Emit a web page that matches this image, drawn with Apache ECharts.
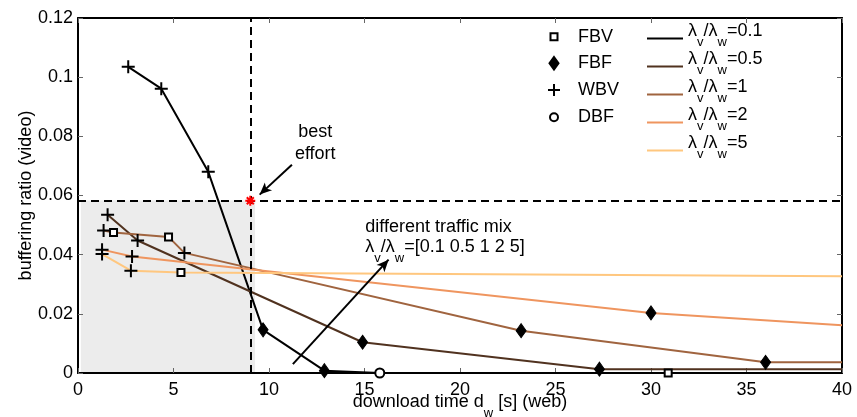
<!DOCTYPE html>
<html>
<head>
<meta charset="utf-8">
<script src="https://cdn.jsdelivr.net/npm/echarts@6/dist/echarts.min.js"></script>
<style>
  html, body { margin: 0; padding: 0; background: #fff; }
  #chart { width: 857px; height: 417px; }
</style>
</head>
<body>
<div id="chart"></div>
<script>
// traffic mix lambda_v / lambda_w, one curve each
const mixRatios = ['0.1', '0.5', '1', '2', '5'];
const mixColors = ['#000000', '#50321f', '#a0643f', '#ef955f', '#ffc77f'];

// download time d_w [s] and buffering ratio along every curve
const mix01X = [2.63, 4.36, 6.82, 9.69, 12.9, 15.8, 30.9, 40];
const mix01Y = [0.1035, 0.0961, 0.068, 0.0146, 0.0008, 0, 0, 0];
const mix05X = [1.55, 3.12, 14.9, 27.3, 40];
const mix05Y = [0.0535, 0.0448, 0.0104, 0.0013, 0.0013];
const mix1X = [1.34, 1.86, 4.74, 5.57, 23.2, 36.0, 40];
const mix1Y = [0.0482, 0.0475, 0.046, 0.0406, 0.0143, 0.0036, 0.0036];
const mix2X = [1.26, 2.83, 30.0, 40];
const mix2Y = [0.0417, 0.0394, 0.0203, 0.0161];
const mix5X = [1.26, 2.77, 5.39, 40];
const mix5Y = [0.0402, 0.0346, 0.034, 0.0327];

// scheduling strategies (markers)
const fbvX = [1.86, 4.74, 5.39, 30.9];
const fbvY = [0.0475, 0.046, 0.034, 0];
const fbfX = [9.69, 12.9, 14.9, 27.3, 23.2, 36.0, 30.0];
const fbfY = [0.0146, 0.0008, 0.0104, 0.0013, 0.0143, 0.0036, 0.0203];
const wbvX = [2.63, 4.36, 6.82, 1.55, 3.12, 1.34, 5.57, 1.26, 2.83, 1.26, 2.77];
const wbvY = [0.1035, 0.0961, 0.068, 0.0535, 0.0448, 0.0482, 0.0406, 0.0417, 0.0394, 0.0402, 0.0346];
const dbfX = [15.8];
const dbfY = [0];

// best effort point
const bestX = [9.02];
const bestY = [0.0582];

const zip = (xs, ys) => xs.map((x, i) => [x, ys[i]]);
const curves = [[mix01X, mix01Y], [mix05X, mix05Y], [mix1X, mix1Y], [mix2X, mix2Y], [mix5X, mix5Y]];

const FONT = 'Liberation Sans, Arial, sans-serif';
const rich = {
  m: { fontSize: 18, lineHeight: 20, verticalAlign: 'top', color: '#000', fontFamily: FONT },
  s: { fontSize: 13, padding: [14, 0, 6, 0], verticalAlign: 'top', color: '#000', fontFamily: FONT }
};
const SQUARE = 'path://M0,0L10,0L10,10L0,10Z';
const PLUS = 'path://M0,6L12,6M6,0L6,12';
const DIAMOND = 'path://M5,0L10,7L5,14L0,7Z';
const STAR = 'path://M0,5L10,5M5,0L5,10M1.5,1.5L8.5,8.5M1.5,8.5L8.5,1.5';

const chart = echarts.init(document.getElementById('chart'));

const axisCommon = {
  type: 'value',
  z: 1.5,
  axisLine: { show: true, onZero: false, lineStyle: { color: '#000', width: 2 } },
  axisTick: { show: true, inside: true, length: 5, lineStyle: { color: '#666', width: 1 } },
  splitLine: { show: false }
};

// marker legend entry: icon centred at x=553, text starting at x=577
const markerLegend = (name, top, w, h, icon) => {
  const left = 553 - w / 2;
  return {
    data: [name], orient: 'vertical', left: left, top: top, padding: 0,
    itemWidth: w, itemHeight: h, icon: icon, selectedMode: false,
    textStyle: { fontSize: 18, lineHeight: 20, color: '#000', fontFamily: FONT,
      padding: [0, 0, 0, 577 - (left + w + 5)] }
  };
};

const option = {
  animation: false,
  textStyle: { fontFamily: FONT },
  grid: { left: 78, right: 15, top: 18, bottom: 44, outerBoundsMode: 'none', containLabel: false },
  xAxis: [
    Object.assign({}, axisCommon, {
      position: 'bottom', min: 0, max: 40, interval: 5,
      axisLabel: { fontSize: 18, color: '#000', margin: 8 },
      name: '{m|download time d}{s|w}{m| [s] (web)}', nameLocation: 'middle', nameGap: 20,
      nameMoveOverlap: false,
      nameTextStyle: { fontSize: 18, color: '#000', rich: rich, verticalAlign: 'top' }
    }),
    Object.assign({}, axisCommon, {
      position: 'top', min: 0, max: 40, interval: 5, axisLabel: { show: false }
    })
  ],
  yAxis: [
    Object.assign({}, axisCommon, {
      position: 'left', min: 0, max: 0.12, interval: 0.02,
      axisLabel: { fontSize: 18, color: '#000', margin: 5, formatter: v => String(+v.toFixed(2)) },
      name: 'buffering ratio (video)', nameLocation: 'middle', nameGap: 43,
      nameMoveOverlap: false,
      nameTextStyle: { fontSize: 18, color: '#000' }
    }),
    Object.assign({}, axisCommon, {
      position: 'right', min: 0, max: 0.12, interval: 0.02, axisLabel: { show: false }
    })
  ],
  legend: [
    markerLegend('FBV', 26.7, 7, 7, SQUARE),
    markerLegend('FBF', 53.3, 9, 13, DIAMOND),
    markerLegend('WBV', 80, 12, 12, PLUS),
    markerLegend('DBF', 107.3, 8, 8, 'circle'),
    {
      data: mixRatios, orient: 'vertical', left: 647, top: 22, padding: 0,
      itemWidth: 36, itemHeight: 2, itemGap: 1, icon: 'rect', selectedMode: false,
      formatter: n => `{m|λ}{s|v}{m|/λ}{s|w}{m|=${n}}`,
      textStyle: { fontSize: 18, color: '#000', rich: rich }
    }
  ],
  series: [
    {
      // shaded region and the best-effort guide lines
      type: 'line', name: 'guides', data: [], silent: true,
      markArea: {
        silent: true,
        itemStyle: { color: '#ececec' },
        data: [[{ coord: [0.15, 0] }, { coord: [9.27, 0.0583] }]]
      },
      markLine: {
        silent: true, symbol: 'none', label: { show: false },
        lineStyle: { color: '#000', width: 2, type: [8, 5] },
        data: [
          [{ coord: [bestX[0], 0] }, { coord: [bestX[0], 0.12] }],
          [{ coord: [0, bestY[0]] }, { coord: [40, bestY[0]] }]
        ]
      }
    },
    ...curves.map((c, i) => ({
      type: 'line', name: mixRatios[i], data: zip(c[0], c[1]),
      symbol: 'none', showSymbol: false, clip: false, z: 3,
      lineStyle: { color: mixColors[i], width: 2 },
      itemStyle: { color: mixColors[i] }
    })),
    {
      type: 'scatter', name: 'FBV', data: zip(fbvX, fbvY), symbol: SQUARE, symbolSize: 7, clip: false, z: 5,
      itemStyle: { color: '#fff', borderColor: '#000', borderWidth: 2, opacity: 1 }
    },
    {
      type: 'scatter', name: 'FBF', data: zip(fbfX, fbfY), symbol: DIAMOND, symbolSize: [10, 14], clip: false, z: 5,
      itemStyle: { color: '#000', borderColor: '#000', borderWidth: 1, opacity: 1 }
    },
    {
      type: 'scatter', name: 'WBV', data: zip(wbvX, wbvY), symbol: PLUS, symbolSize: 13, clip: false, z: 5,
      itemStyle: { color: 'rgba(0,0,0,0)', borderColor: '#000', borderWidth: 2, opacity: 1 }
    },
    {
      type: 'scatter', name: 'DBF', data: zip(dbfX, dbfY), symbol: 'circle', symbolSize: 9, clip: false, z: 5,
      itemStyle: { color: '#fff', borderColor: '#000', borderWidth: 2, opacity: 1 }
    },
    {
      type: 'scatter', name: 'best', data: zip(bestX, bestY), symbol: STAR, symbolSize: 10, z: 6,
      itemStyle: { color: 'rgba(0,0,0,0)', borderColor: '#ff0000', borderWidth: 2, opacity: 1 }
    },
    {
      // annotations and arrows
      type: 'scatter', name: 'notes', symbolSize: 0, silent: true, z: 6,
      itemStyle: { opacity: 1 },
      data: [
        { value: [12.42, 0.0779], label: { formatter: 'best\neffort', align: 'center', verticalAlign: 'middle',
          lineHeight: 22, color: '#000', fontSize: 18 } },
        { value: [15.04, 0.0525], label: { formatter: '{m|different traffic mix}\n{m|λ}{s|v}{m|/λ}{s|w}{m|=[0.1 0.5 1 2 5]}',
          align: 'left', verticalAlign: 'top', rich: rich, color: '#000' } }
      ],
      label: { show: true, position: 'inside', fontSize: 18, color: '#000' },
      markLine: {
        silent: true, symbol: ['none', 'arrow'], symbolSize: [8, 12], label: { show: false },
        lineStyle: { color: '#000', width: 2, type: 'solid' },
        data: [
          [{ coord: [11.2, 0.0704] }, { coord: [9.51, 0.0603] }],
          [{ coord: [11.25, 0.003] }, { coord: [16.26, 0.0383] }]
        ]
      }
    }
  ]
};

chart.setOption(option);
</script>
</body>
</html>
